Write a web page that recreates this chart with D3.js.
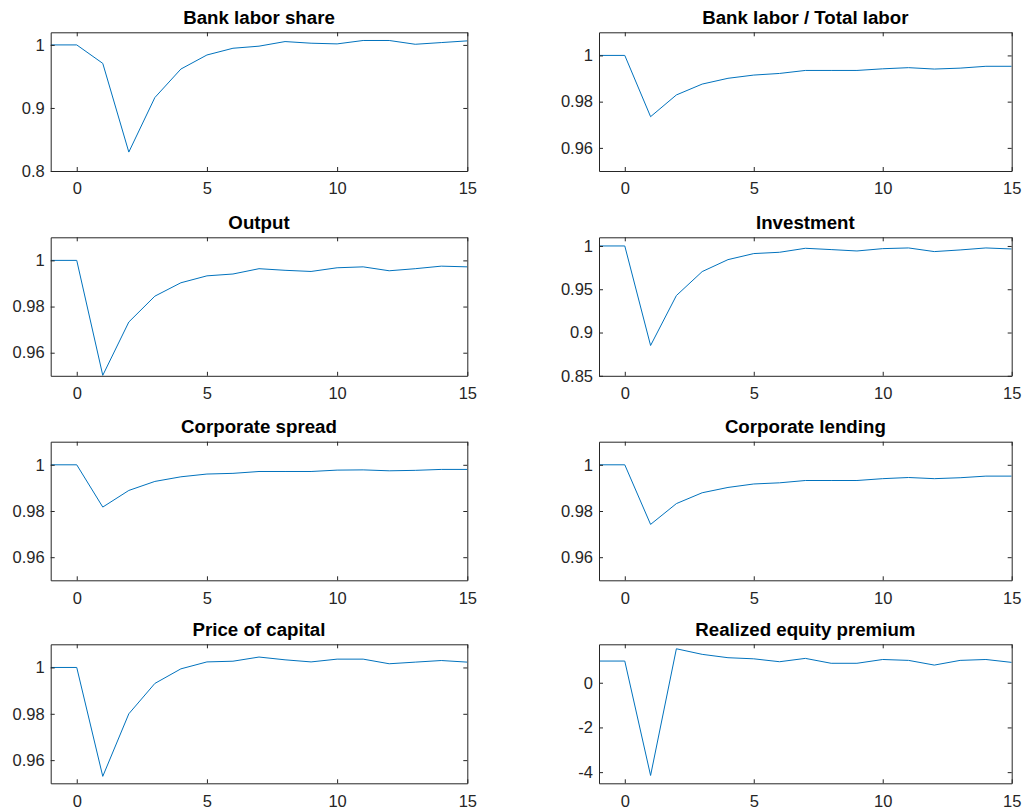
<!DOCTYPE html>
<html>
<head>
<meta charset="utf-8">
<script src="https://cdn.jsdelivr.net/npm/d3@7"></script>
<style>
  html, body { margin: 0; padding: 0; background: #ffffff; }
  svg { display: block; }
  .tick text { font-family: "Liberation Sans", Arial, Helvetica, sans-serif; }
</style>
</head>
<body>
<svg id="chart" width="1029" height="810"></svg>
<script>
// ---------------- DATA ----------------
const periods = [-1, 0, 1, 2, 3, 4, 5, 6, 7, 8, 9, 10, 11, 12, 13, 14, 15];
const xTickValues = [0, 5, 10, 15];

const titles = [
  "Bank labor share", "Bank labor / Total labor",
  "Output", "Investment",
  "Corporate spread", "Corporate lending",
  "Price of capital", "Realized equity premium"
];

const bankLaborShare = [1, 1, 0.9707, 0.830, 0.9165, 0.9617, 0.984, 0.9947, 0.998, 1.0053, 1.0027, 1.0016, 1.007, 1.007, 1.001, 1.0037, 1.0064];
const bankLaborTotal = [1, 1, 0.9735, 0.9829, 0.9876, 0.9901, 0.9915, 0.9922, 0.9935, 0.9935, 0.9935, 0.9942, 0.9947, 0.9941, 0.9945, 0.9953, 0.9953];
const output = [1, 1, 0.9502, 0.9733, 0.9845, 0.9903, 0.9933, 0.9941, 0.9964, 0.9957, 0.9952, 0.9968, 0.9972, 0.9955, 0.9964, 0.9975, 0.9972];
const investment = [1, 1, 0.885, 0.9427, 0.9704, 0.9842, 0.9912, 0.9927, 0.9973, 0.9958, 0.9942, 0.9969, 0.9977, 0.9935, 0.9954, 0.9977, 0.9965];
const corporateSpread = [1, 1, 0.9817, 0.9889, 0.9928, 0.9948, 0.996, 0.9963, 0.9971, 0.9971, 0.9971, 0.9977, 0.9978, 0.9974, 0.9976, 0.998, 0.998];
const corporateLending = [1, 1, 0.9742, 0.9832, 0.9879, 0.9902, 0.9917, 0.9922, 0.9932, 0.9932, 0.9932, 0.994, 0.9945, 0.994, 0.9944, 0.9951, 0.9951];
const priceOfCapital = [1, 1, 0.953, 0.98, 0.9931, 0.9994, 1.0024, 1.0027, 1.0045, 1.0033, 1.0024, 1.0036, 1.0036, 1.0016, 1.0023, 1.003, 1.0023];
const equityPremium = [0.97, 0.97, -4.15, 1.52, 1.27, 1.12, 1.07, 0.94, 1.09, 0.87, 0.87, 1.04, 1.0, 0.79, 1.0, 1.04, 0.91];

const yLimits = [
  [0.8, 1.02], [0.95, 1.01],
  [0.95, 1.01], [0.85, 1.01],
  [0.95, 1.01], [0.95, 1.01],
  [0.95, 1.01], [-4.5, 1.72]
];
const yTickValues = [
  [0.8, 0.9, 1], [0.96, 0.98, 1],
  [0.96, 0.98, 1], [0.85, 0.9, 0.95, 1],
  [0.96, 0.98, 1], [0.96, 0.98, 1],
  [0.96, 0.98, 1], [-4, -2, 0]
];
const yTickLabels = [
  ["0.8", "0.9", "1"], ["0.96", "0.98", "1"],
  ["0.96", "0.98", "1"], ["0.85", "0.9", "0.95", "1"],
  ["0.96", "0.98", "1"], ["0.96", "0.98", "1"],
  ["0.96", "0.98", "1"], ["-4", "-2", "0"]
];
const seriesList = [bankLaborShare, bankLaborTotal, output, investment,
                    corporateSpread, corporateLending, priceOfCapital, equityPremium];

// ---------------- LAYOUT ----------------
const colX = [[50.7, 467.3], [599, 1011.7]];
const rowY = [[32.3, 171], [237.3, 375.8], [441.7, 580.3], [644.3, 783.3]];
const axisColor = "#262626";
const lineColor = "#0072BD";
const fontFam = '"Liberation Sans", Arial, Helvetica, sans-serif';

const svg = d3.select("#chart");

seriesList.forEach((vals, i) => {
  const col = i % 2, row = Math.floor(i / 2);
  const [x0, x1] = colX[col];
  const [y0, y1] = rowY[row];
  const w = x1 - x0, h = y1 - y0;

  const x = d3.scaleLinear().domain([-1, 15]).range([0, w]);
  const y = d3.scaleLinear().domain(yLimits[i]).range([h, 0]);

  const g = svg.append("g").attr("transform", `translate(${x0},${y0})`);

  // clip
  const clipId = "clip" + i;
  g.append("clipPath").attr("id", clipId)
    .append("rect").attr("x", 0).attr("y", -1).attr("width", w).attr("height", h + 2);

  // line
  const data = periods.map((p, k) => [p, vals[k]]);
  g.append("path")
    .datum(data)
    .attr("clip-path", `url(#${clipId})`)
    .attr("fill", "none")
    .attr("stroke", lineColor)
    .attr("stroke-width", 1)
    .attr("stroke-linejoin", "round")
    .attr("d", d3.line().x(d => x(d[0])).y(d => y(d[1])));

  const labels = yTickLabels[i];
  const tv = yTickValues[i];

  // axes
  const bottom = g.append("g").attr("transform", `translate(0,${h})`)
    .call(d3.axisBottom(x).tickValues(xTickValues).tickFormat(d3.format("d"))
      .tickSizeInner(-4).tickSizeOuter(0).tickPadding(11.5));
  const top = g.append("g")
    .call(d3.axisTop(x).tickValues(xTickValues).tickFormat("")
      .tickSizeInner(-4).tickSizeOuter(0));
  const left = g.append("g")
    .call(d3.axisLeft(y).tickValues(tv).tickFormat((d, k) => labels[k])
      .tickSizeInner(-4).tickSizeOuter(0).tickPadding(6));
  const right = g.append("g").attr("transform", `translate(${w},0)`)
    .call(d3.axisRight(y).tickValues(tv).tickFormat("")
      .tickSizeInner(-4).tickSizeOuter(0));

  [bottom, top, left, right].forEach(a => {
    a.select(".domain").attr("stroke", axisColor).attr("stroke-width", 1);
    a.selectAll(".tick line").attr("stroke", axisColor).attr("stroke-width", 1);
    a.selectAll(".tick text").attr("fill", axisColor)
      .attr("font-size", "16.5px").attr("font-family", fontFam);
  });

  // title
  g.append("text")
    .attr("x", w / 2).attr("y", -8.5)
    .attr("text-anchor", "middle")
    .attr("font-family", fontFam)
    .attr("font-weight", "bold")
    .attr("font-size", "18.7px")
    .attr("fill", "#000")
    .text(titles[i]);
});
</script>
</body>
</html>
